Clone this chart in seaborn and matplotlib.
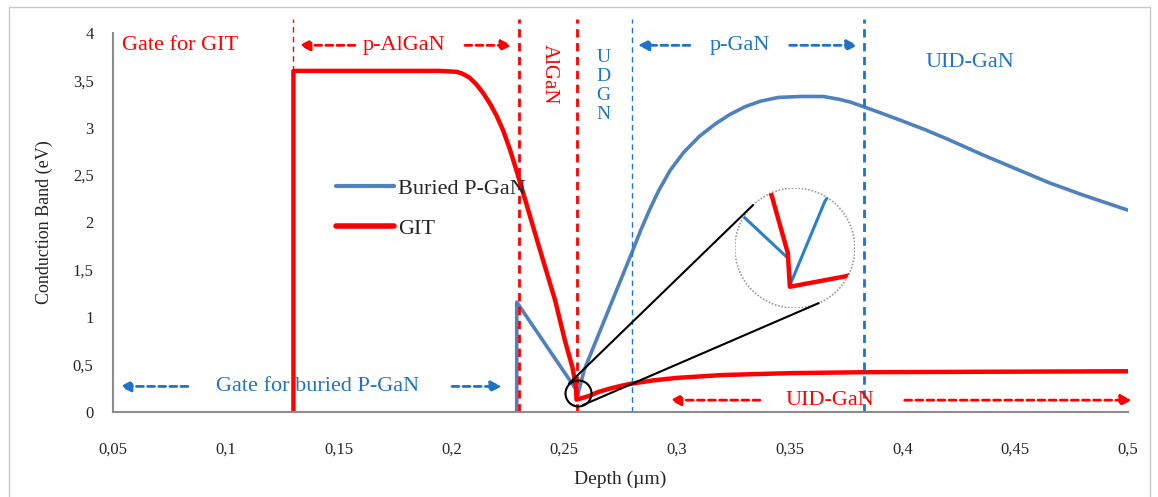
"""Conduction band profile: buried P-GaN vs GIT."""

import math

import matplotlib

matplotlib.use("Agg")
import matplotlib.pyplot as plt
import pandas as pd
import seaborn as sns
from matplotlib.lines import Line2D
from matplotlib.patches import Circle, Rectangle

# --- data ------------------------------------------------------------------
buried_depth = [0.229, 0.229, 0.2553, 0.2556, 0.259, 0.28, 0.284, 0.288, 0.292,
                0.297, 0.303, 0.310, 0.317, 0.3235, 0.330, 0.337, 0.345, 0.355,
                0.365, 0.372, 0.377, 0.383, 0.39, 0.399, 0.41, 0.42, 0.435,
                0.45, 0.465, 0.48, 0.50]
buried_cb = [0.0, 1.16, 0.2375, 0.144, 0.45, 1.68, 1.92, 2.14, 2.34,
             2.55, 2.74, 2.91, 3.04, 3.14, 3.22, 3.28, 3.32, 3.33,
             3.33, 3.30, 3.27, 3.22, 3.16, 3.08, 2.98, 2.88, 2.72,
             2.57, 2.42, 2.29, 2.13]

git_depth = [0.13, 0.13, 0.195, 0.2025, 0.205, 0.208, 0.211, 0.214, 0.217,
             0.220, 0.223, 0.226, 0.229, 0.232, 0.2393, 0.246, 0.2503, 0.2537,
             0.2553, 0.2555, 0.2612, 0.265, 0.27, 0.275, 0.28, 0.29, 0.30,
             0.32, 0.35, 0.383, 0.50]
git_cb = [0.0, 3.6, 3.6, 3.59, 3.57, 3.53, 3.46, 3.37, 3.26,
          3.13, 2.97, 2.77, 2.54, 2.30, 1.71, 1.18, 0.76, 0.47,
          0.256, 0.13, 0.17, 0.21, 0.245, 0.275, 0.30, 0.335, 0.36,
          0.39, 0.41, 0.42, 0.43]

# layer boundaries (depth, µm)
gate_git_edge = 0.13
algan_top = 0.23
algan_bottom = 0.2555
uid_bottom = 0.28
pgan_bottom = 0.383

x_ticks = [0.05, 0.1, 0.15, 0.2, 0.25, 0.3, 0.35, 0.4, 0.45, 0.5]
x_tick_labels = ["0,05", "0,1", "0,15", "0,2", "0,25", "0,3", "0,35", "0,4", "0,45", "0,5"]
y_ticks = [0, 0.5, 1, 1.5, 2, 2.5, 3, 3.5, 4]
y_tick_labels = ["0", "0,5", "1", "1,5", "2", "2,5", "3", "3,5", "4"]

BLUE_LINE = "#4F81BD"
BLUE_TXT = "#1F74C4"
RED = "#FF0000"
GRAY = "#8C8C8C"

sns.set_style("white")
plt.rcParams["font.family"] = ["Liberation Serif", "DejaVu Serif"]

buried = pd.DataFrame({"depth": buried_depth, "cb": buried_cb, "sample": "Buried P-GaN"})
git = pd.DataFrame({"depth": git_depth, "cb": git_cb, "sample": "GIT"})
df = pd.concat([buried, git], ignore_index=True)

W, H = 1158, 497
fig = plt.figure(figsize=(W / 100, H / 100), dpi=100)
ax = fig.add_axes([113 / W, 1 - 412 / H, (1128 - 113) / W, (412 - 33) / H])

sns.lineplot(data=df, x="depth", y="cb", hue="sample", sort=False, estimator=None,
             palette={"Buried P-GaN": BLUE_LINE, "GIT": RED}, ax=ax, legend=False)
ax.lines[0].set_linewidth(2.6)
ax.lines[1].set_linewidth(3.2)

ax.set_xlim(0.05, 0.5)
ax.set_ylim(0, 4)
ax.set_xticks(x_ticks)
ax.set_xticklabels(x_tick_labels, fontsize=12)
ax.set_xticks([0.05 + 0.01 * i for i in range(46)], minor=True)
ax.set_yticks(y_ticks)
ax.set_yticklabels(y_tick_labels, fontsize=12)
ax.tick_params(axis="both", which="both", direction="out", color=GRAY, width=1.2)
ax.tick_params(axis="x", which="major", length=7, pad=14)
ax.tick_params(axis="x", which="minor", length=5)
ax.tick_params(axis="y", length=6, pad=8)
for side in ("top", "right"):
    ax.spines[side].set_visible(False)
for side in ("left", "bottom"):
    ax.spines[side].set_color(GRAY)
    ax.spines[side].set_linewidth(1.5)
ax.set_xlabel("Depth (µm)", fontsize=14, labelpad=10)
ax.set_ylabel("Conduction Band (eV)", fontsize=13, labelpad=14)

# layer boundaries
top = 4.15
ax.plot([gate_git_edge] * 2, [3.6, top], color=RED, lw=1, ls=(0, (4, 3)), clip_on=False)
ax.plot([algan_top] * 2, [0, top], color=RED, lw=2, ls=(0, (3, 2)), clip_on=False)
ax.plot([algan_bottom] * 2, [0, top], color=RED, lw=2, ls=(0, (3, 2)), clip_on=False)
ax.plot([uid_bottom] * 2, [0, top], color=BLUE_TXT, lw=1, ls=(0, (4, 3)), clip_on=False)
ax.plot([pgan_bottom] * 2, [0, top], color=BLUE_TXT, lw=2, ls=(0, (3, 2)), clip_on=False)


def dashed_arrow(x_tail, x_head, y, color):
    ax.annotate("", xy=(x_head, y), xytext=(x_tail, y), annotation_clip=False,
                arrowprops=dict(arrowstyle="-|>", color=color, lw=2,
                                linestyle=(0, (2.5, 1.5)), mutation_scale=16,
                                shrinkA=0, shrinkB=0))


txt = dict(fontsize=16, ha="center", va="center")
ax.text(0.054, 3.87, "Gate for GIT", color=RED, fontsize=16, ha="left", va="center")
ax.text(0.179, 3.87, "p-AlGaN", color=RED, **txt)
dashed_arrow(0.1573, 0.1325, 3.87, RED)
dashed_arrow(0.206, 0.2269, 3.87, RED)
ax.text(0.2435, 3.56, "AlGaN", color=RED, fontsize=15, rotation=-90, ha="center", va="center")
ax.text(0.2675, 3.44, "U\nD\nG\nN", color=BLUE_TXT, fontsize=14, ha="center", va="center",
        linespacing=1.15)
ax.text(0.328, 3.87, "p-GaN", color=BLUE_TXT, **txt)
dashed_arrow(0.3058, 0.2827, 3.87, BLUE_TXT)
dashed_arrow(0.35, 0.3802, 3.87, BLUE_TXT)
ax.text(0.43, 3.69, "UID-GaN", color=BLUE_TXT, **txt)
ax.text(0.1409, 0.27, "Gate for buried P-GaN", color=BLUE_TXT, **txt)
dashed_arrow(0.0832, 0.0531, 0.27, BLUE_TXT)
dashed_arrow(0.2003, 0.2224, 0.27, BLUE_TXT)
ax.text(0.3678, 0.125, "UID-GaN", color=RED, **txt)
dashed_arrow(0.3368, 0.2969, 0.125, RED)
dashed_arrow(0.401, 0.5017, 0.125, RED)

handles = [Line2D([], [], color=BLUE_LINE, lw=3), Line2D([], [], color=RED, lw=4)]
ax.legend(handles, ["Buried P-GaN", "GIT"], loc="upper left", bbox_to_anchor=(0.2, 0.67),
          frameon=False, fontsize=16, handlelength=2.6, handletextpad=0.2, labelspacing=0.9)

# magnifier: small circle on the minimum, large circle with zoomed view
fig.canvas.draw()
small_c = ax.transData.transform((0.2561, 0.2))
big_c = ax.transData.transform((0.3523, 1.73))
r_small, r_big = 13, 60

ax.plot([0.2561], [0.2], marker="o", ms=2 * r_small * 0.72, mfc="none", mec="black", mew=1.5)

ax_in = fig.add_axes([(big_c[0] - r_big) / W, (big_c[1] - r_big) / H, 2 * r_big / W, 2 * r_big / H])
sns.lineplot(data=df, x="depth", y="cb", hue="sample", sort=False, estimator=None,
             palette={"Buried P-GaN": "#2A7FCB", "GIT": RED}, ax=ax_in, legend=False)
ax_in.lines[0].set_linewidth(2.2)
ax_in.lines[1].set_linewidth(3.2)
ax_in.set_xlim(0.25, 0.262)
ax_in.set_ylim(0.05, 0.5)
ax_in.axis("off")
lens = Circle((0.5, 0.5), 0.5, transform=ax_in.transAxes, facecolor="white",
              edgecolor="#9A9A9A", lw=1.2, ls=(0, (1, 1)), zorder=0)
ax_in.add_patch(lens)
for ln in ax_in.lines:
    ln.set_clip_path(lens)

# external tangent lines between the two circles
dx, dy = big_c[0] - small_c[0], big_c[1] - small_c[1]
dist = math.hypot(dx, dy)
theta = math.atan2(dy, dx)
alpha = math.asin((r_big - r_small) / dist)
for sgn in (1, -1):
    ang = theta + sgn * (math.pi / 2 + alpha)
    p0 = (small_c[0] + r_small * math.cos(ang), small_c[1] + r_small * math.sin(ang))
    p1 = (big_c[0] + r_big * math.cos(ang), big_c[1] + r_big * math.sin(ang))
    fig.add_artist(Line2D([p0[0] / W, p1[0] / W], [p0[1] / H, p1[1] / H],
                          color="black", lw=1.5, transform=fig.transFigure))

fig.add_artist(Rectangle((9 / W, -0.01), (1150 - 9) / W, 1 - 7 / H + 0.01,
                         transform=fig.transFigure, fill=False, edgecolor="#C8C8C8", lw=1))

fig.savefig("out.png", dpi=100)
